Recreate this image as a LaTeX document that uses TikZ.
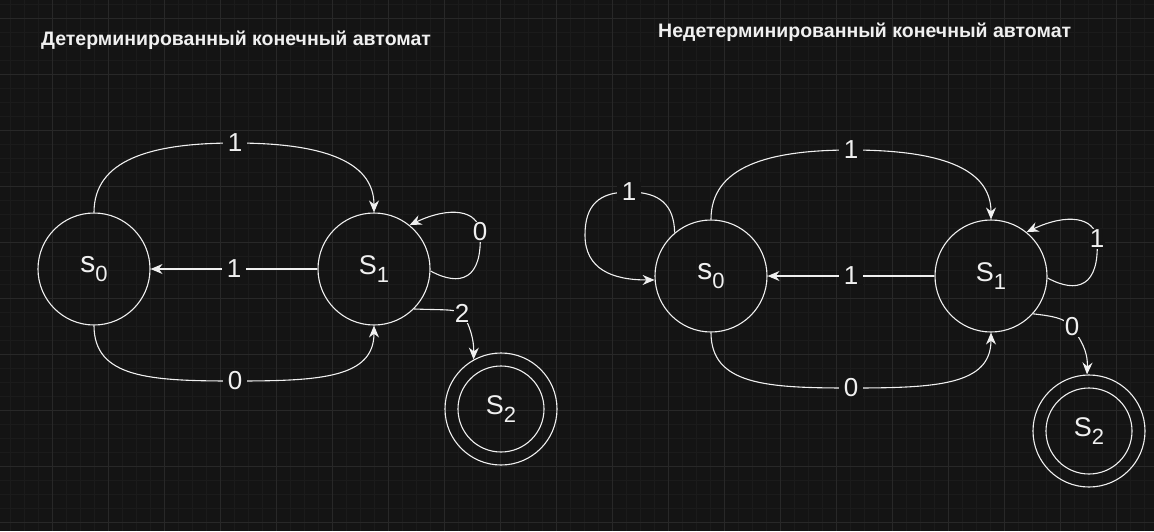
\documentclass[tikz,border=0pt]{standalone}
\usepackage{fontspec}
\setmainfont{Liberation Sans}
\usetikzlibrary{arrows.meta}
\definecolor{bg}{HTML}{141414}
\definecolor{gridminor}{HTML}{1B1B1B}
\definecolor{gridmajor}{HTML}{282828}
\definecolor{ink}{HTML}{F0F0F0}
\tikzset{
  state/.style={circle, draw=ink, line width=1.1pt, minimum size=112pt, inner sep=0pt, text=ink, font=\fontsize{27}{27}\selectfont},
  inner/.style={circle, draw=ink, line width=1.1pt, minimum size=86pt, inner sep=0pt},
  edge/.style={draw=ink, line width=1.1pt, -{Stealth[length=12pt,width=10pt,inset=4pt]}},
  lbl/.style={fill=bg, text=ink, inner xsep=4.5pt, inner ysep=1pt, font=\fontsize{26}{26}\selectfont},
  title/.style={text=ink, font=\bfseries\fontsize{19.5}{19.5}\selectfont, inner sep=0pt, anchor=base west}
}
\newcommand{\sbs}[1]{\raisebox{-0.28em}{\fontsize{22}{22}\selectfont #1}}
\begin{document}
\begin{tikzpicture}[x=1pt,y=-1pt]
\fill[bg] (0,0) rectangle (1154,531);
\useasboundingbox (0,0) rectangle (1154,531);
% grid
\foreach \i in {0,...,83} {\draw[gridminor, line width=0.6pt] ({-4+14*\i},0) -- ({-4+14*\i},531);}
\foreach \j in {0,...,38} {\draw[gridminor, line width=0.6pt] (0,{4+14*\j}) -- (1154,{4+14*\j});}
\foreach \i in {0,...,21} {\draw[gridmajor, line width=0.8pt] ({-4+56*\i},0) -- ({-4+56*\i},531);}
\foreach \j in {0,...,9} {\draw[gridmajor, line width=0.8pt] (0,{18+56*\j}) -- (1154,{18+56*\j});}

% titles
\node[title] (t1) at (41,45) {Детерминированный конечный автомат};
\node[title] (t2) at (658,37) {Недетерминированный конечный автомат};

% ---------- left: DFA ----------
\node[state] (a0) at (94,269) {\fontsize{30}{30}\selectfont s\sbs{0}};
\node[state] (a1) at (374,269) {S\sbs{1}};
\node[state] (a2) at (501,409) {S\sbs{2}};
\node[inner] (a2i) at (501,409) {};

\draw[edge] (a0.north) .. controls (94,160) and (150,143) .. (235,143) node[lbl] {1}
            .. controls (320,143) and (374,160) .. (a1.north);
\draw[edge] (a1.west) -- node[lbl] {1} (a0.east);
\draw[edge] (a0.south) .. controls (94,378) and (150,381) .. (235,381) node[lbl] {0}
            .. controls (320,381) and (374,378) .. (a1.south);
\draw[edge] (a1.-2) .. controls (460,287) and (483,280) .. (480,232) node[lbl, inner xsep=1pt] {0}
            .. controls (478,210) and (450,206) .. (a1.51);
\draw[edge] (a1.-45) .. controls (440,310) and (455,309) .. (462,313) node[lbl, inner xsep=1pt] {2}
            .. controls (470,325) and (474,340) .. (a2.119);

% ---------- right: NFA ----------
\begin{scope}[shift={(617,7)}]
\node[state] (b0) at (94,269) {\fontsize{30}{30}\selectfont s\sbs{0}};
\node[state] (b1) at (374,269) {S\sbs{1}};
\node[state] (b2) at (472,424) {S\sbs{2}};
\node[inner] (b2i) at (472,424) {};

\draw[edge] (b0.130) .. controls (57,198) and (43,185) .. (12,185) node[lbl] {1}
            .. controls (-18,185) and (-32,198) .. (-32,228)
            .. controls (-32,262) and (-5,273) .. (b0.184);
\draw[edge] (b0.north) .. controls (94,160) and (150,143) .. (234,143) node[lbl] {1}
            .. controls (320,143) and (374,160) .. (b1.north);
\draw[edge] (b1.west) -- node[lbl] {1} (b0.east);
\draw[edge] (b0.south) .. controls (94,378) and (150,381) .. (234,381) node[lbl] {0}
            .. controls (320,381) and (374,378) .. (b1.south);
\draw[edge] (b1.-2) .. controls (460,287) and (483,280) .. (480,232) node[lbl, inner xsep=1pt] {1}
            .. controls (478,210) and (450,206) .. (b1.51);
\draw[edge] (b1.-42) .. controls (435,309) and (448,311) .. (455,320) node[lbl, inner xsep=1pt] {0}
            .. controls (463,332) and (471,343) .. (b2.92);
\end{scope}
\end{tikzpicture}
\end{document}
